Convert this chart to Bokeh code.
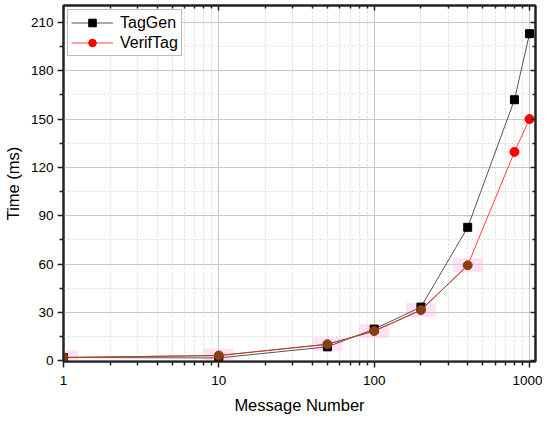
from bokeh.plotting import figure
from bokeh.models import (Range1d, LogAxis, LinearAxis, FixedTicker, Legend, LegendItem,
                          ColumnDataSource, CustomJSTickFormatter)
from bokeh.embed import file_html
from bokeh.resources import INLINE

# ---- data ----
messages = [1, 10, 50, 100, 200, 400, 800, 1000]
taggen = [2.0, 1.7, 8.6, 19.6, 33.3, 82.8, 162.0, 203.0]
veriftag = [2.0, 3.2, 10.2, 18.4, 31.4, 59.2, 129.6, 150.0]
y_ticks = [0, 30, 60, 90, 120, 150, 180, 210]
y_minor = [15, 45, 75, 105, 135, 165, 195]
x_ticks = [1, 10, 100, 1000]
x_minor = [2, 3, 4, 5, 6, 7, 8, 9, 20, 30, 40, 50, 60, 70, 80, 90,
           200, 300, 400, 500, 600, 700, 800, 900]
# rendering tint of VerifTag markers (brownish where they overlap the halo)
verif_colors = ["#8a3c12"] * 6 + ["#ff0000"] * 2
halo_n = 6

FONT = "Liberation Sans"

p = figure(width=542, height=416, x_axis_type="log",
           x_range=Range1d(1, 1093), y_range=Range1d(-0.5, 220.5),
           output_backend="svg", toolbar_location=None,
           min_border_left=56, min_border_top=5, min_border_right=7, min_border_bottom=52,
           background_fill_color="white", border_fill_color="white")
p.outline_line_color = "#222222"
p.outline_line_width = 2

xt = FixedTicker(ticks=x_ticks, minor_ticks=x_minor)
yt = FixedTicker(ticks=y_ticks, minor_ticks=y_minor)

# main axes
for ax in (p.xaxis[0], p.yaxis[0]):
    ax.axis_line_width = 2
    ax.axis_line_color = "#222222"
    ax.major_tick_line_color = "#222222"
    ax.minor_tick_line_color = "#222222"
    ax.major_tick_line_width = 1.5
    ax.minor_tick_line_width = 1.5
    ax.major_tick_out = 6
    ax.major_tick_in = 0
    ax.minor_tick_out = 4
    ax.minor_tick_in = 0
    ax.major_label_text_font = FONT
    ax.major_label_text_font_size = "13.5px"
    ax.major_label_text_color = "black"
    ax.axis_label_text_font = FONT
    ax.axis_label_text_font_size = "16.5px"
    ax.axis_label_text_font_style = "normal"
    ax.axis_label_text_color = "black"
p.xaxis[0].ticker = xt
p.xaxis[0].formatter = CustomJSTickFormatter(code="return tick.toFixed(0)")
p.yaxis[0].ticker = yt
p.xaxis[0].axis_label = "Message Number"
p.yaxis[0].axis_label = "Time (ms)"
p.xaxis[0].major_label_standoff = 8
p.yaxis[0].major_label_standoff = 4
p.xaxis[0].axis_label_standoff = 8
p.yaxis[0].axis_label_standoff = 6

# mirror axes (inward ticks, no labels)
top = LogAxis(ticker=FixedTicker(ticks=x_ticks, minor_ticks=x_minor),
              formatter=CustomJSTickFormatter(code="return ''"))
right = LinearAxis(ticker=FixedTicker(ticks=y_ticks, minor_ticks=y_minor),
                   formatter=CustomJSTickFormatter(code="return ''"))
for ax in (top, right):
    ax.axis_line_width = 2
    ax.axis_line_color = "#222222"
    ax.major_tick_line_color = "#222222"
    ax.minor_tick_line_color = "#222222"
    ax.major_tick_line_width = 1.5
    ax.minor_tick_line_width = 1.5
    ax.major_tick_out = 0
    ax.major_tick_in = 5
    ax.minor_tick_out = 0
    ax.minor_tick_in = 3
    ax.major_label_standoff = 0
    ax.major_label_text_font_size = "1px"
p.add_layout(top, "above")
p.add_layout(right, "right")

# grids
p.xgrid.ticker = xt
p.ygrid.ticker = yt
for g in (p.xgrid[0], p.ygrid[0]):
    g.grid_line_color = "#c8c8c8"
    g.grid_line_width = 1
    g.minor_grid_line_color = "#dcdcdc"
    g.minor_grid_line_dash = "2 2"
    g.minor_grid_line_width = 1

# faint halos behind lower VerifTag points
halo = ColumnDataSource(dict(x=messages[:halo_n], y=veriftag[:halo_n]))
p.rect(x="x", y="y", width=30, height=14, width_units="screen", height_units="screen",
       source=halo, fill_color="#ffb6e6", fill_alpha=0.4, line_color=None)

src_t = ColumnDataSource(dict(x=messages, y=taggen))
src_v = ColumnDataSource(dict(x=messages, y=veriftag, c=verif_colors))

lt = p.line("x", "y", source=src_t, line_color="#555555", line_width=1)
st = p.scatter("x", "y", source=src_t, marker="square", size=8,
               fill_color="black", line_color="black")
lv = p.line("x", "y", source=src_v, line_color="#ff4040", line_width=1)
p.line(x=messages[:halo_n], y=veriftag[:halo_n], line_color="#9a4a2a", line_width=1)
sv = p.scatter("x", "y", source=src_v, marker="circle", size=9,
               fill_color="c", line_color="c")

legend = Legend(items=[
    LegendItem(label="TagGen", renderers=[lt, st]),
    LegendItem(label="VerifTag", renderers=[lv, sv], index=7),
], location="top_left")
legend.margin = 4
legend.padding = 3
legend.spacing = 1
legend.label_standoff = 7
legend.glyph_width = 42
legend.glyph_height = 19
legend.label_height = 19
legend.label_text_font = FONT
legend.label_text_font_size = "16px"
legend.label_text_color = "black"
legend.border_line_color = "#777777"
legend.border_line_width = 1
legend.background_fill_color = "white"
legend.background_fill_alpha = 1
p.add_layout(legend, "center")

open("out.html", "w").write(file_html(p, INLINE))
